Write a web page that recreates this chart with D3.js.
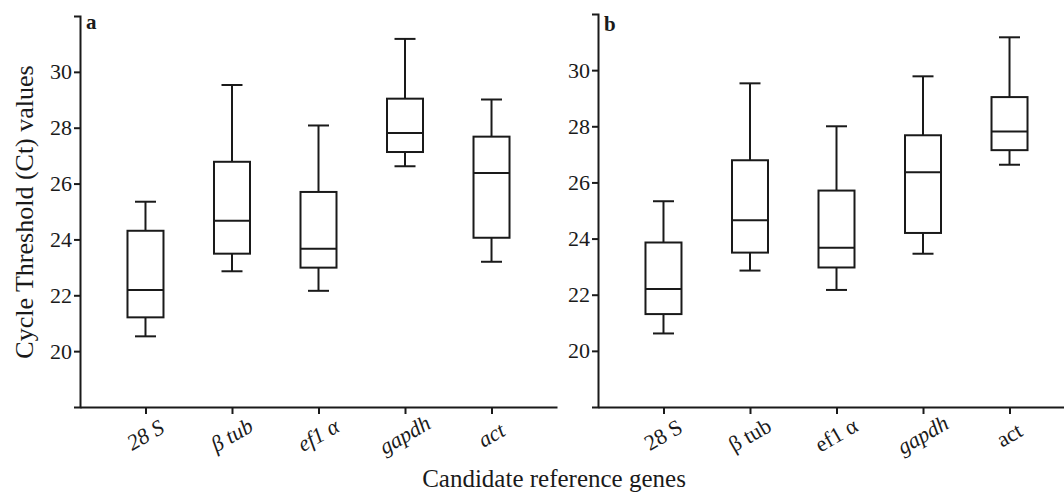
<!DOCTYPE html>
<html>
<head>
<meta charset="utf-8">
<script src="https://cdn.jsdelivr.net/npm/d3@7"></script>
<style>
  body { margin: 0; background: #fff; }
  svg text { font-family: 'Liberation Serif', 'Tinos', 'DejaVu Serif', serif !important; }
</style>
</head>
<body>
<svg id="chart" width="1064" height="498"></svg>
<script>
// genes, same order in both panels
const genes = ['28 S', 'β tub', 'ef1 α', 'gapdh', 'act'];
const yTicks = [20, 22, 24, 26, 28, 30];

// panel a: [whisker low, Q1, median, Q3, whisker high]
const statsA = [
    [20.53, 21.21, 22.19, 24.31, 25.35],
    [22.86, 23.49, 24.67, 26.78, 29.53],
    [22.16, 22.99, 23.67, 25.70, 28.08],
    [26.62, 27.13, 27.81, 29.04, 31.18],
    [23.20, 24.06, 26.38, 27.68, 29.01]
];
// panel b
const statsB = [
    [20.62, 21.31, 22.20, 23.86, 25.33],
    [22.86, 23.50, 24.65, 26.79, 29.53],
    [22.17, 22.97, 23.67, 25.71, 28.00],
    [23.46, 24.20, 26.36, 27.68, 29.78],
    [26.63, 27.15, 27.81, 29.04, 31.17]
];
// which tick labels are italic
const italicA = [true, true, true, true, true];
const italicB = [false, false, false, true, false];

const svg = d3.select('#chart');
const ink = '#1a1a1a';
const serif = "'Liberation Serif', 'Tinos', 'DejaVu Serif', serif";

function panel(stats, italics, letter, x0, yTop, letterY) {
    const x = d3.scalePoint().domain(genes).range([x0, x0 + 477]).padding(0.757);
    const y = d3.scaleLinear().domain([18, 32]).range([407, yTop]);
    const g = svg.append('g');

    // y axis
    const ya = g.append('g')
        .attr('transform', `translate(${x0},0)`)
        .call(d3.axisLeft(y).tickValues(yTicks).tickSize(6).tickPadding(2));
    ya.attr('font-family', serif).attr('font-size', 22);
    ya.select('.domain').attr('stroke', ink).attr('stroke-width', 2);
    ya.selectAll('.tick line').attr('stroke', ink).attr('stroke-width', 2);
    ya.selectAll('.tick text').attr('fill', ink);

    // x axis
    const xa = g.append('g')
        .attr('transform', 'translate(0,407)')
        .call(d3.axisBottom(x).tickSize(7).tickSizeOuter(0).tickFormat(''));
    xa.select('.domain').attr('stroke', ink).attr('stroke-width', 2);
    xa.selectAll('.tick line').attr('stroke', ink).attr('stroke-width', 2);

    g.selectAll('.glabel')
        .data(genes).enter()
        .append('text')
        .attr('transform', d => `translate(${x(d) + 1},437) rotate(-30)`)
        .attr('text-anchor', 'middle')
        .attr('dominant-baseline', 'middle')
        .attr('font-family', serif)
        .attr('font-size', 22)
        .attr('font-style', (d, i) => italics[i] ? 'italic' : 'normal')
        .attr('fill', ink)
        .text(d => d);

    // boxes
    const bw = 36, cw = 21;
    const b = g.selectAll('.box').data(stats).enter().append('g')
        .attr('fill', 'none').attr('stroke', ink).attr('stroke-width', 2);
    b.append('line') // upper whisker
        .attr('x1', (d, i) => x(genes[i])).attr('x2', (d, i) => x(genes[i]))
        .attr('y1', d => y(d[4])).attr('y2', d => y(d[3]));
    b.append('line') // lower whisker
        .attr('x1', (d, i) => x(genes[i])).attr('x2', (d, i) => x(genes[i]))
        .attr('y1', d => y(d[1])).attr('y2', d => y(d[0]));
    b.append('line')
        .attr('x1', (d, i) => x(genes[i]) - cw / 2).attr('x2', (d, i) => x(genes[i]) + cw / 2)
        .attr('y1', d => y(d[4])).attr('y2', d => y(d[4]));
    b.append('line')
        .attr('x1', (d, i) => x(genes[i]) - cw / 2).attr('x2', (d, i) => x(genes[i]) + cw / 2)
        .attr('y1', d => y(d[0])).attr('y2', d => y(d[0]));
    b.append('rect')
        .attr('x', (d, i) => x(genes[i]) - bw / 2).attr('width', bw)
        .attr('y', d => y(d[3])).attr('height', d => y(d[1]) - y(d[3]));
    b.append('line')
        .attr('x1', (d, i) => x(genes[i]) - bw / 2).attr('x2', (d, i) => x(genes[i]) + bw / 2)
        .attr('y1', d => y(d[2])).attr('y2', d => y(d[2]));

    g.append('text')
        .attr('x', x0 + 6).attr('y', letterY)
        .attr('font-family', serif)
        .attr('font-size', 21).attr('font-weight', 'bold')
        .attr('fill', ink)
        .text(letter);
}

panel(statsA, italicA, 'a', 80, 16, 29);
panel(statsB, italicB, 'b', 598, 14, 31);

svg.append('text')
    .attr('transform', 'translate(33,212) rotate(-90)')
    .attr('text-anchor', 'middle')
    .attr('font-family', serif)
    .attr('font-size', 26)
    .attr('fill', ink)
    .text('Cycle Threshold (Ct) values');

svg.append('text')
    .attr('x', 554).attr('y', 487)
    .attr('text-anchor', 'middle')
    .attr('font-family', serif)
    .attr('font-size', 25)
    .attr('fill', ink)
    .text('Candidate reference genes');
</script>
</body>
</html>
